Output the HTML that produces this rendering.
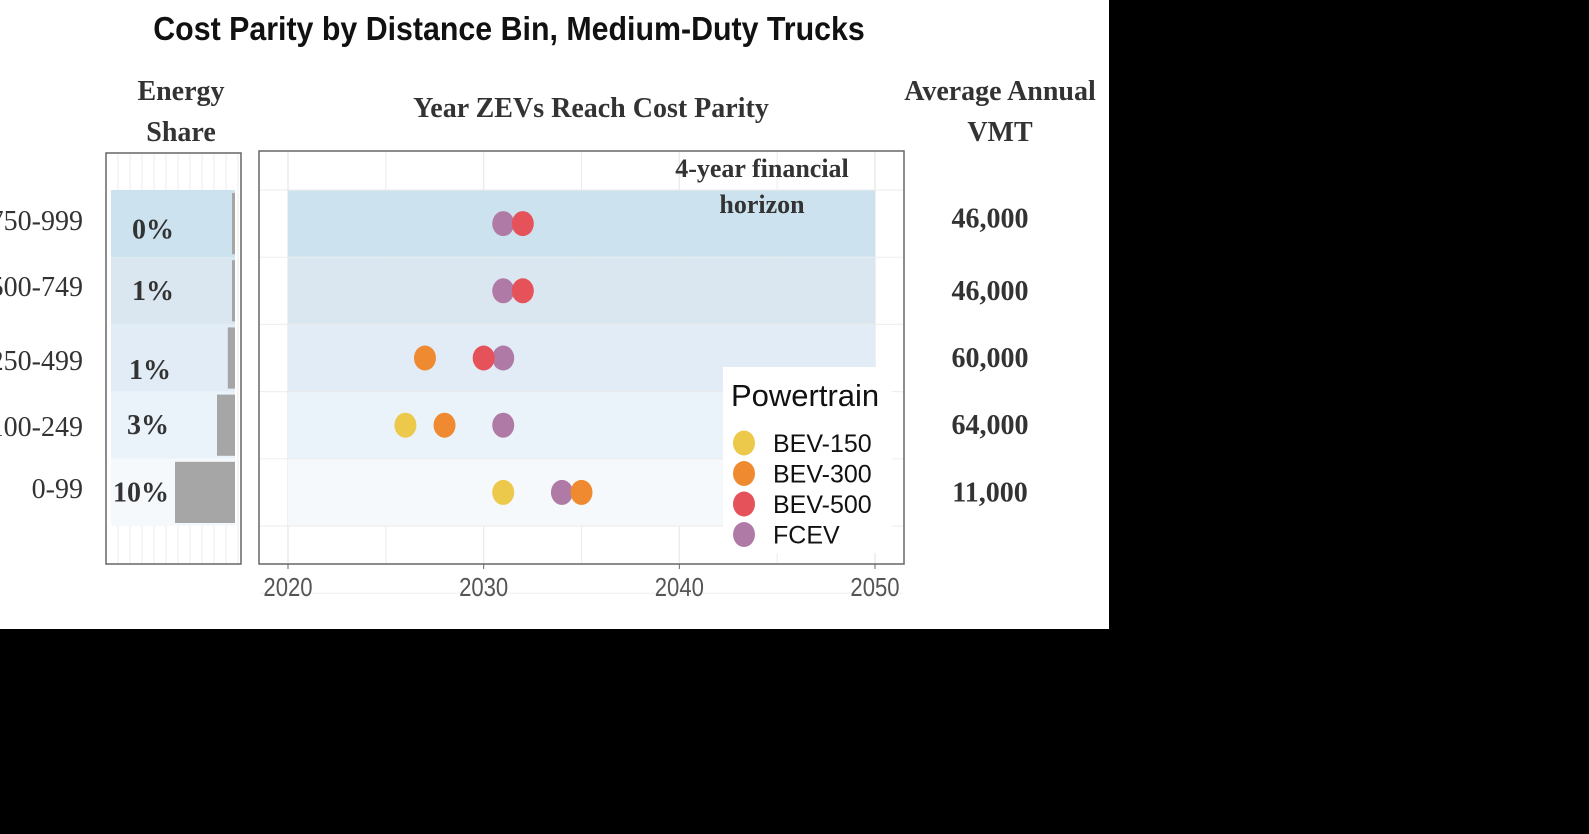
<!DOCTYPE html>
<html><head><meta charset="utf-8"><style>
body{margin:0;background:#000;}
svg{display:block}
.serif{font-family:"Liberation Serif",serif}
.sans{font-family:"Liberation Sans",sans-serif}
</style></head><body>
<svg id="chart" width="1589" height="834" viewBox="0 0 1589 834" xmlns="http://www.w3.org/2000/svg">
<rect x="0" y="0" width="1589" height="834" fill="#000"/>
<rect x="0" y="0" width="1109" height="629" fill="#fff"/>
<text x="509" y="40" text-anchor="middle" class="sans" font-weight="bold" font-size="33" fill="#111" transform="translate(509,0) scale(0.92,1) translate(-509,0)">Cost Parity by Distance Bin, Medium-Duty Trucks</text>
<text x="181" y="100" text-anchor="middle" class="serif" font-weight="bold" font-size="28" fill="#333">Energy</text>
<text x="181" y="141" text-anchor="middle" class="serif" font-weight="bold" font-size="28" fill="#333">Share</text>
<text x="591" y="117" text-anchor="middle" class="serif" font-weight="bold" font-size="28" fill="#333">Year ZEVs Reach Cost Parity</text>
<text x="1000" y="100" text-anchor="middle" class="serif" font-weight="bold" font-size="28" fill="#333">Average Annual</text>
<text x="1000" y="141" text-anchor="middle" class="serif" font-weight="bold" font-size="28" fill="#333">VMT</text>
<g id="left"></g>
<g id="main"></g>
</svg>
<script>
const bins = ["750-999","500-749","250-499","100-249","0-99"];
const shareLabels = ["0%","1%","1%","3%","10%"];
const shareValues = [0.4, 0.5, 1.2, 3, 10];
const vmtLabels = ["46,000","46,000","60,000","64,000","11,000"];
const seriesNames = ["BEV-150","BEV-300","BEV-500","FCEV"];
const seriesColors = ["#ecc94b","#f08a30","#e5525a","#b07aa6"];
const bev150 = [null, null, null, 2026, 2031];
const bev300 = [null, null, 2027, 2028, 2035];
const bev500 = [2032, 2032, 2030, null, null];
const fcev = [2031, 2031, 2031, 2031, 2034];
const xTicks = [2020, 2030, 2040, 2050];
const bandColors = ["#cce3ef","#dbe7f0","#e1ecf6","#ebf3fa","#f6f9fc"];

const NS="http://www.w3.org/2000/svg";
function mk(tag, attrs, parent){const e=document.createElementNS(NS,tag);for(const k in attrs)e.setAttribute(k,attrs[k]);parent.appendChild(e);return e;}
const rowTop=190, rowH=67.2;
const yRow=i=>rowTop+rowH*(i+0.5);
const xYear=y=>288+(y-2020)*(875-288)/30;
const xShare=v=>235-v*6;

const L=document.getElementById('left'), M=document.getElementById('main');
// left panel
let r=mk('rect',{x:106,y:153,width:135,height:411,fill:'#fff',stroke:'#666','stroke-width':1.5},L);


for(let gx=118; gx<241; gx+=12){let g=mk('line',{x1:gx,x2:gx,y1:154,y2:563,stroke:'#eee','stroke-width':1},L);

}
bins.forEach((b,i)=>{
 let band=mk('rect',{x:111,y:rowTop+rowH*i,width:124,height:rowH,fill:bandColors[i]},L);
 
 
 const w=Math.max(3,235-xShare(shareValues[i]));
 let bar=mk('rect',{x:235-w,y:rowTop+rowH*i+3,width:w,height:rowH-6,fill:'#a6a6a6'},L);
 
 
 let t=mk('text',{x:i==4?113:(i==3?127:(i==2?129:132)),y:yRow(i)+(i==2?12:(i==0?6:0))+9,class:'serif','font-weight':'bold','font-size':28,fill:'#333'},L);t.textContent=shareLabels[i];
 
 
 let lab=mk('text',{x:83,y:[221,287,361,427,489][i]+9,'text-anchor':'end',class:'serif','font-size':28,fill:'#333'},L);lab.textContent=b;
 
 
 let v=mk('text',{x:990,y:yRow(i)+(i==0?-5:0)+9,'text-anchor':'middle',class:'serif','font-weight':'bold','font-size':28,fill:'#333'},L);v.textContent=vmtLabels[i];
 
 
});
// main plot
let p=mk('rect',{x:259,y:151,width:645,height:413,fill:'#fff',stroke:'#666','stroke-width':1.5},M);


for(let y=2020;y<=2050;y+=5){let g=mk('line',{x1:xYear(y),x2:xYear(y),y1:152,y2:563,stroke:'#ececec','stroke-width':y%10?1:1.5},M);

}
bins.forEach((b,i)=>{
 let band=mk('rect',{x:xYear(2020),y:rowTop+rowH*i,width:xYear(2050)-xYear(2020),height:rowH,fill:bandColors[i]},M);
 
 
});
for(let k=0;k<=6;k++){let g=mk('line',{x1:260,x2:903,y1:rowTop+rowH*k-rowH*0+(k==6?0:0),y2:rowTop+rowH*k,stroke:'#ececec','stroke-width':1.2,opacity:0.8},M);

}
xTicks.forEach(t=>{
 let tk=mk('line',{x1:xYear(t),x2:xYear(t),y1:564,y2:569,stroke:'#666'},M);
 
 
 let tl=mk('text',{x:xYear(t),y:596,'text-anchor':'middle',class:'sans','font-size':26,fill:'#555',transform:`translate(${xYear(t)},0) scale(0.85,1) translate(${-xYear(t)},0)`},M);tl.textContent=t;
 
 
});
let a1=mk('text',{x:762,y:177,'text-anchor':'middle',class:'serif','font-weight':'bold','font-size':26,fill:'#333'},M);a1.textContent='4-year financial';


let a2=mk('text',{x:762,y:213,'text-anchor':'middle',class:'serif','font-weight':'bold','font-size':26,fill:'#333'},M);a2.textContent='horizon';


// legend
let lg=mk('rect',{x:723,y:367,width:169,height:186,fill:'#fff'},M);


let lt=mk('text',{x:731,y:406,class:'sans','font-size':31,fill:'#111'},M);lt.textContent='Powertrain';


seriesNames.forEach((n,j)=>{
 const cy=443+j*30.5;
 let c=mk('ellipse',{cx:744,cy:cy,rx:11,ry:12.5,fill:seriesColors[j]},M);
 
 
 let t=mk('text',{x:773,y:cy+9,class:'sans','font-size':25,fill:'#111'},M);t.textContent=n;
 
 
});
// points
const series=[bev150,bev300,bev500,fcev];
const order=[3,0,1,2];
bins.forEach((b,i)=>{
 order.forEach(j=>{
  const v=series[j][i]; if(v==null) return;
  let c=mk('ellipse',{cx:xYear(v),cy:yRow(i),rx:11,ry:12.5,fill:seriesColors[j]},M);
  
  
 });
});
</script>
</body></html>
